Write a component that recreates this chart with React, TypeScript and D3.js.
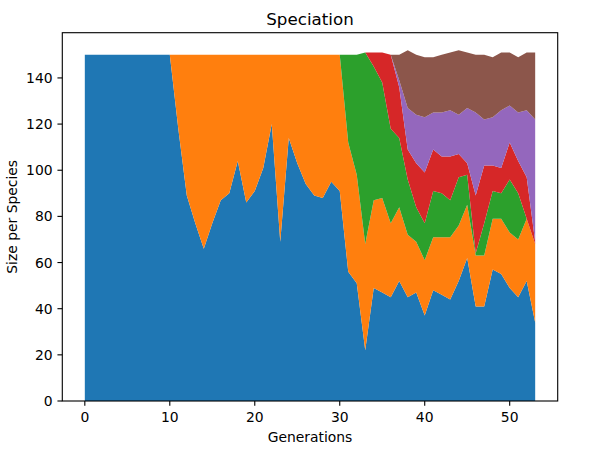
import React from "react";
import * as d3 from "d3";

const title = "Speciation";
const xLabel = "Generations";
const yLabel = "Size per Species";

const species1 = [150,150,150,150,150,150,150,150,150,150,150,118,89,77,66,77,87,90,104,86,91,101,120,69,114,103,94,89,88,95,91,56,51,22,49,47,45,52,45,47,37,48,46,44,52,62,41,41,57,55,49,45,52,34];
const species2 = [0,0,0,0,0,0,0,0,0,0,0,32,61,73,84,73,63,60,46,64,59,49,30,81,36,47,56,61,62,55,59,56,47,46,38,41,32,32,27,22,24,23,25,27,24,23,22,22,22,24,24,25,27,34];
const species3 = [0,0,0,0,0,0,0,0,0,0,0,0,0,0,0,0,0,0,0,0,0,0,0,0,0,0,0,0,0,0,0,38,52,83,58,50,41,30,24,15,16,20,19,16,21,13,1,14,12,11,23,20,0,0];
const species4 = [0,0,0,0,0,0,0,0,0,0,0,0,0,0,0,0,0,0,0,0,0,0,0,0,0,0,0,0,0,0,0,0,0,0,6,13,32,22,13,19,22,18,16,19,10,5,25,25,11,11,16,14,18,1];
const species5 = [0,0,0,0,0,0,0,0,0,0,0,0,0,0,0,0,0,0,0,0,0,0,0,0,0,0,0,0,0,0,0,0,0,0,0,0,0,3,18,21,24,16,19,20,17,24,36,20,21,25,16,21,29,53];
const species6 = [0,0,0,0,0,0,0,0,0,0,0,0,0,0,0,0,0,0,0,0,0,0,0,0,0,0,0,0,0,0,0,0,0,0,0,0,0,11,25,26,26,24,25,25,28,24,25,28,26,25,23,24,25,29];

const seriesList = [species1, species2, species3, species4, species5, species6];
const colors = ["#1f77b4", "#ff7f0e", "#2ca02c", "#d62728", "#9467bd", "#8c564b"];
const xTicks = [0, 10, 20, 30, 40, 50];
const yTicks = [0, 20, 40, 60, 80, 100, 120, 140];

const W = 609, H = 451;
const left = 62.3, right = 557.7, top = 32.7, bottom = 401;
const FONT = "DejaVu Sans, sans-serif";

export default function App() {
  const n = species1.length;
  const keys = seriesList.map((_, i) => "s" + i);
  const rows = d3.range(n).map((g) => {
    const r: any = { g };
    seriesList.forEach((s, i) => (r["s" + i] = s[g]));
    return r;
  });
  const stacked = d3.stack().keys(keys)(rows);
  const totals = rows.map((r) => keys.reduce((a, k) => a + r[k], 0));
  const xMax = n - 1;
  const xPad = xMax * 0.05;
  const x = d3.scaleLinear().domain([-xPad, xMax + xPad]).range([left, right]);
  const yMax = (d3.max(totals) as number) * 1.05;
  const y = d3.scaleLinear().domain([0, yMax]).range([bottom, top]);
  const area = d3
    .area<any>()
    .x((d) => x(d.data.g))
    .y0((d) => y(d[0]))
    .y1((d) => y(d[1]));
  const tickLen = 4.86;
  const lw = 1.11;
  return (
    <svg
      width={W}
      height={H}
      style={{ position: "absolute", left: 0, top: 0, background: "#fff" }}
      fontFamily={FONT}
    >
      <rect x={0} y={0} width={W} height={H} fill="#fff" />
      {stacked.map((s, i) => (
        <path key={i} d={area(s as any) || ""} fill={colors[i]} stroke="none" />
      ))}
      <rect
        x={left}
        y={top}
        width={right - left}
        height={bottom - top}
        fill="none"
        stroke="#000"
        strokeWidth={lw}
      />
      {xTicks.map((t) => (
        <g key={"x" + t}>
          <line x1={x(t)} x2={x(t)} y1={bottom} y2={bottom + tickLen} stroke="#000" strokeWidth={lw} />
          <text x={x(t)} y={421.5} textAnchor="middle" fontSize={13.9} fill="#000">
            {t}
          </text>
        </g>
      ))}
      {yTicks.map((t) => (
        <g key={"y" + t}>
          <line x1={left - tickLen} x2={left} y1={y(t)} y2={y(t)} stroke="#000" strokeWidth={lw} />
          <text x={left - 9.7} y={y(t) + 5} textAnchor="end" fontSize={13.9} fill="#000">
            {t}
          </text>
        </g>
      ))}
      <text x={(left + right) / 2} y={442} textAnchor="middle" fontSize={13.9} fill="#000">
        {xLabel}
      </text>
      <text
        transform={`translate(17,${(top + bottom) / 2}) rotate(-90)`}
        textAnchor="middle"
        fontSize={13.9}
        fill="#000"
      >
        {yLabel}
      </text>
      <text x={(left + right) / 2} y={24.5} textAnchor="middle" fontSize={16.7} fill="#000">
        {title}
      </text>
    </svg>
  );
}
